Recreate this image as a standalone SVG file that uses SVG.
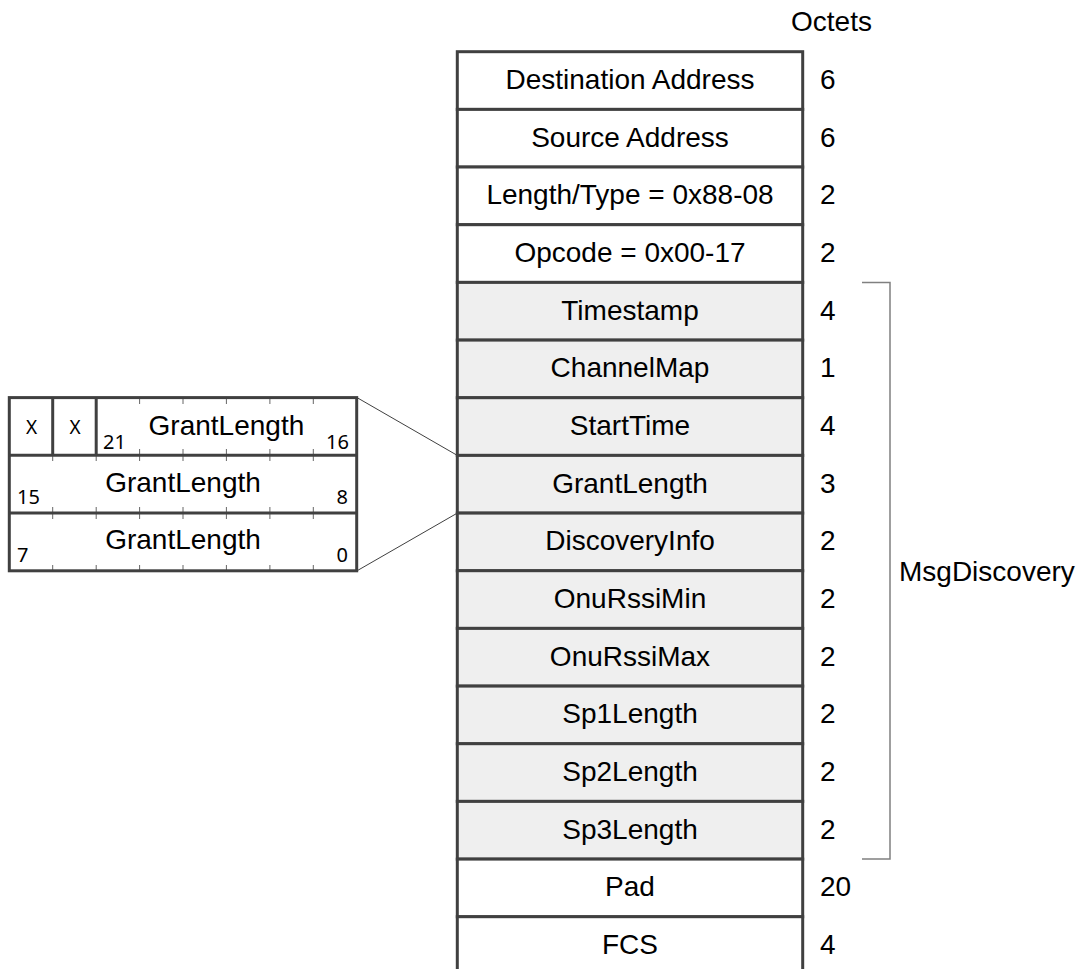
<svg xmlns="http://www.w3.org/2000/svg" width="1079" height="969" viewBox="0 0 1079 969">
<style>
.cell{stroke:#404040;stroke-width:3;}
.w{fill:#ffffff;}
.g{fill:#efefef;}
.t{font-family:"Liberation Sans",Arial,sans-serif;font-size:28px;fill:#000;}
.c{text-anchor:middle;}
.s{font-family:"Noto Sans","Open Sans",sans-serif;fill:#000;}
.tick{stroke:#666;stroke-width:1;}
.conn{stroke:#404040;stroke-width:1;fill:none;}
.br{stroke:#808080;stroke-width:1.5;fill:none;}
</style>
<rect width="1079" height="969" fill="#fff"/>
<text class="t" x="791" y="31">Octets</text>
<g id="row-dest"><rect class="cell w" x="457.3" y="51.7" width="345.4" height="57.7"/><text class="t c" x="630" y="89">Destination Address</text><text class="t" x="820" y="89">6</text></g>
<g id="row-src"><rect class="cell w" x="457.3" y="109.4" width="345.4" height="57.7"/><text class="t c" x="630" y="146.7">Source Address</text><text class="t" x="820" y="146.7">6</text></g>
<g id="row-len"><rect class="cell w" x="457.3" y="167.0" width="345.4" height="57.7"/><text class="t c" x="630" y="204.3">Length/Type = 0x88-08</text><text class="t" x="820" y="204.3">2</text></g>
<g id="row-op"><rect class="cell w" x="457.3" y="224.7" width="345.4" height="57.7"/><text class="t c" x="630" y="262">Opcode = 0x00-17</text><text class="t" x="820" y="262">2</text></g>
<g id="row-ts"><rect class="cell g" x="457.3" y="282.4" width="345.4" height="57.7"/><text class="t c" x="630" y="319.7">Timestamp</text><text class="t" x="820" y="319.7">4</text></g>
<g id="row-cm"><rect class="cell g" x="457.3" y="340.1" width="345.4" height="57.7"/><text class="t c" x="630" y="377.4">ChannelMap</text><text class="t" x="820" y="377.4">1</text></g>
<g id="row-st"><rect class="cell g" x="457.3" y="397.7" width="345.4" height="57.7"/><text class="t c" x="630" y="435">StartTime</text><text class="t" x="820" y="435">4</text></g>
<g id="row-gl"><rect class="cell g" x="457.3" y="455.4" width="345.4" height="57.7"/><text class="t c" x="630" y="492.7">GrantLength</text><text class="t" x="820" y="492.7">3</text></g>
<g id="row-di"><rect class="cell g" x="457.3" y="513.1" width="345.4" height="57.7"/><text class="t c" x="630" y="550.4">DiscoveryInfo</text><text class="t" x="820" y="550.4">2</text></g>
<g id="row-min"><rect class="cell g" x="457.3" y="570.7" width="345.4" height="57.7"/><text class="t c" x="630" y="608">OnuRssiMin</text><text class="t" x="820" y="608">2</text></g>
<g id="row-max"><rect class="cell g" x="457.3" y="628.4" width="345.4" height="57.7"/><text class="t c" x="630" y="665.7">OnuRssiMax</text><text class="t" x="820" y="665.7">2</text></g>
<g id="row-sp1"><rect class="cell g" x="457.3" y="686.1" width="345.4" height="57.7"/><text class="t c" x="630" y="723.4">Sp1Length</text><text class="t" x="820" y="723.4">2</text></g>
<g id="row-sp2"><rect class="cell g" x="457.3" y="743.7" width="345.4" height="57.7"/><text class="t c" x="630" y="781">Sp2Length</text><text class="t" x="820" y="781">2</text></g>
<g id="row-sp3"><rect class="cell g" x="457.3" y="801.4" width="345.4" height="57.7"/><text class="t c" x="630" y="838.7">Sp3Length</text><text class="t" x="820" y="838.7">2</text></g>
<g id="row-pad"><rect class="cell w" x="457.3" y="859.1" width="345.4" height="57.7"/><text class="t c" x="630" y="896.4">Pad</text><text class="t" x="820" y="896.4">20</text></g>
<g id="row-fcs"><rect class="cell w" x="457.3" y="916.7" width="345.4" height="57.7"/><text class="t c" x="630" y="954">FCS</text><text class="t" x="820" y="954">4</text></g>
<g id="bracket"><polyline class="br" points="862,282.4 890,282.4 890,859 862,859"/><text class="t" x="899" y="581">MsgDiscovery</text></g>
<g id="connectors">
<line class="conn" x1="357" y1="397.6" x2="457.3" y2="455.4"/>
<line class="conn" x1="357" y1="570.8" x2="457.3" y2="513.1"/>
</g>
<g id="grantlength-detail">
<rect class="w" x="9.3" y="397.6" width="347.4" height="173.2"/>
<g class="tick">
<line x1="139.6" y1="397.6" x2="139.6" y2="404"/><line x1="183.0" y1="397.6" x2="183.0" y2="404"/><line x1="226.4" y1="397.6" x2="226.4" y2="404"/><line x1="269.9" y1="397.6" x2="269.9" y2="404"/><line x1="313.3" y1="397.6" x2="313.3" y2="404"/>
<line x1="139.6" y1="455.2" x2="139.6" y2="449"/><line x1="183.0" y1="455.2" x2="183.0" y2="449"/><line x1="226.4" y1="455.2" x2="226.4" y2="449"/><line x1="269.9" y1="455.2" x2="269.9" y2="449"/><line x1="313.3" y1="455.2" x2="313.3" y2="449"/>
<line x1="52.7" y1="455.2" x2="52.7" y2="461"/><line x1="96.2" y1="455.2" x2="96.2" y2="461"/><line x1="139.6" y1="455.2" x2="139.6" y2="461"/><line x1="183.0" y1="455.2" x2="183.0" y2="461"/><line x1="226.4" y1="455.2" x2="226.4" y2="461"/><line x1="269.9" y1="455.2" x2="269.9" y2="461"/><line x1="313.3" y1="455.2" x2="313.3" y2="461"/>
<line x1="52.7" y1="513" x2="52.7" y2="507"/><line x1="96.2" y1="513" x2="96.2" y2="507"/><line x1="139.6" y1="513" x2="139.6" y2="507"/><line x1="183.0" y1="513" x2="183.0" y2="507"/><line x1="226.4" y1="513" x2="226.4" y2="507"/><line x1="269.9" y1="513" x2="269.9" y2="507"/><line x1="313.3" y1="513" x2="313.3" y2="507"/>
<line x1="52.7" y1="513" x2="52.7" y2="519"/><line x1="96.2" y1="513" x2="96.2" y2="519"/><line x1="139.6" y1="513" x2="139.6" y2="519"/><line x1="183.0" y1="513" x2="183.0" y2="519"/><line x1="226.4" y1="513" x2="226.4" y2="519"/><line x1="269.9" y1="513" x2="269.9" y2="519"/><line x1="313.3" y1="513" x2="313.3" y2="519"/>
<line x1="52.7" y1="570.8" x2="52.7" y2="565"/><line x1="96.2" y1="570.8" x2="96.2" y2="565"/><line x1="139.6" y1="570.8" x2="139.6" y2="565"/><line x1="183.0" y1="570.8" x2="183.0" y2="565"/><line x1="226.4" y1="570.8" x2="226.4" y2="565"/><line x1="269.9" y1="570.8" x2="269.9" y2="565"/><line x1="313.3" y1="570.8" x2="313.3" y2="565"/>
</g>
<g class="cell" fill="none">
<rect x="9.3" y="397.6" width="347.4" height="173.2"/>
<line x1="9.3" y1="455.2" x2="356.7" y2="455.2"/>
<line x1="9.3" y1="513" x2="356.7" y2="513"/>
<line x1="52.7" y1="397.6" x2="52.7" y2="455.2"/>
<line x1="96.2" y1="397.6" x2="96.2" y2="455.2"/>
</g>
<text class="s c" x="31.5" y="433.5" font-size="19">X</text>
<text class="s c" x="75" y="433.5" font-size="19">X</text>
<text class="t c" x="226.4" y="435">GrantLength</text>
<text class="s" x="103" y="448.5" font-size="20">21</text>
<text class="s" x="349" y="448.5" font-size="20" text-anchor="end">16</text>
<text class="t c" x="183" y="492">GrantLength</text>
<text class="s" x="17" y="504" font-size="20">15</text>
<text class="s" x="348" y="504" font-size="20" text-anchor="end">8</text>
<text class="t c" x="183" y="549">GrantLength</text>
<text class="s" x="17" y="562" font-size="20">7</text>
<text class="s" x="348" y="562" font-size="20" text-anchor="end">0</text>
</g>
</svg>
